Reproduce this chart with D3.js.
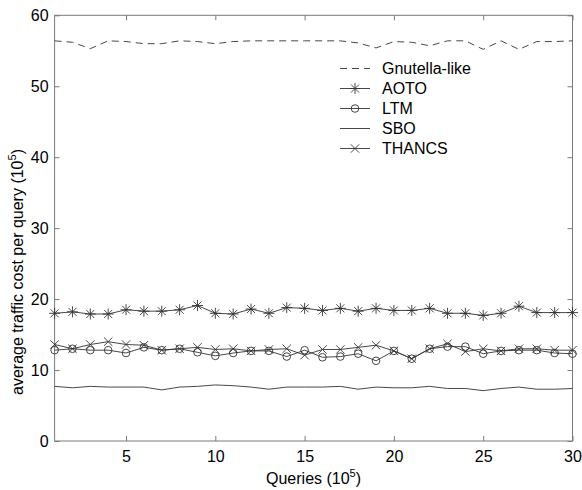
<!DOCTYPE html>
<html>
<head>
<meta charset="utf-8">
<script src="https://cdn.jsdelivr.net/npm/d3@7"></script>
<style>
  html, body { margin: 0; padding: 0; background: #fff; }
  svg { display: block; font-family: "Liberation Sans", Arial, sans-serif; }
</style>
</head>
<body>
<svg id="chart" width="582" height="490"></svg>
<script>
// ---- data ----
const queries = d3.range(1, 31);
const gnutella = [56.4, 56.2, 55.3, 56.4, 56.3, 56.0, 56.0, 56.4, 56.3, 56.0,
                  56.3, 56.4, 56.4, 56.4, 56.4, 56.4, 56.4, 56.1, 55.4, 56.3,
                  56.2, 55.7, 56.4, 56.4, 55.2, 56.4, 55.2, 56.3, 56.3, 56.4];
const aoto = [18.0, 18.2, 17.9, 17.9, 18.5, 18.3, 18.3, 18.5, 19.1, 18.0,
              17.9, 18.6, 18.0, 18.8, 18.7, 18.4, 18.7, 18.3, 18.7, 18.4,
              18.4, 18.7, 18.0, 18.0, 17.7, 18.0, 19.0, 18.1, 18.1, 18.1];
const ltm = [12.8, 13.0, 12.8, 12.8, 12.4, 13.2, 12.8, 13.0, 12.5, 12.0,
             12.4, 12.7, 12.7, 11.9, 12.8, 11.8, 11.9, 12.3, 11.3, 12.7,
             11.6, 13.0, 13.3, 13.3, 12.3, 12.7, 12.8, 12.8, 12.4, 12.3];
const sbo = [7.7, 7.5, 7.7, 7.6, 7.6, 7.6, 7.2, 7.6, 7.7, 7.9,
             7.8, 7.6, 7.3, 7.6, 7.6, 7.6, 7.7, 7.3, 7.6, 7.5,
             7.5, 7.7, 7.4, 7.4, 7.1, 7.4, 7.6, 7.3, 7.3, 7.4];
const thancs = [13.6, 13.0, 13.6, 14.0, 13.6, 13.5, 12.8, 13.0, 13.2, 12.9,
                13.0, 12.7, 12.9, 13.0, 12.1, 12.9, 12.9, 13.2, 13.5, 12.7,
                11.6, 13.0, 13.7, 12.6, 13.0, 12.7, 13.0, 13.0, 12.8, 12.8];
const xTicks = [5, 10, 15, 20, 25, 30];
const yTicks = [0, 10, 20, 30, 40, 50, 60];
const seriesNames = ["Gnutella-like", "AOTO", "LTM", "SBO", "THANCS"];

const series = [
  {name: seriesNames[0], values: gnutella, dash: "7,5", marker: null},
  {name: seriesNames[1], values: aoto, dash: null, marker: "asterisk"},
  {name: seriesNames[2], values: ltm, dash: null, marker: "circle"},
  {name: seriesNames[3], values: sbo, dash: null, marker: null},
  {name: seriesNames[4], values: thancs, dash: null, marker: "cross"}
];

// ---- layout ----
const L = 54.6, R = 572.5, T = 15.3, B = 441;
const svg = d3.select("#chart");
const x = d3.scaleLinear().domain([1, 30]).range([L, R]);
const y = d3.scaleLinear().domain([0, 60]).range([B, T]);
const axisColor = "#7a7a7a";
const lineColor = "#333";

// frame
svg.append("rect").attr("x", L).attr("y", T).attr("width", R - L).attr("height", B - T)
  .attr("fill", "none").attr("stroke", axisColor).attr("stroke-width", 1);

function styleAxis(g, labels) {
  g.select(".domain").remove();
  g.selectAll(".tick line").attr("stroke", axisColor);
  g.selectAll(".tick text").attr("fill", "#000").style("font-size", "16px")
    .style("font-family", "'Liberation Sans', Arial, sans-serif");
  if (!labels) g.selectAll(".tick text").remove();
}

svg.append("g").attr("transform", `translate(0,${B})`)
  .call(d3.axisBottom(x).tickValues(xTicks).tickSize(-5).tickPadding(10).tickFormat(d3.format("d")))
  .call(g => styleAxis(g, true));
svg.append("g").attr("transform", `translate(0,${T})`)
  .call(d3.axisTop(x).tickValues(xTicks).tickSize(-5))
  .call(g => styleAxis(g, false));
svg.append("g").attr("transform", `translate(${L},0)`)
  .call(d3.axisLeft(y).tickValues(yTicks).tickSize(-5).tickPadding(6).tickFormat(d3.format("d")))
  .call(g => styleAxis(g, true));
svg.append("g").attr("transform", `translate(${R},0)`)
  .call(d3.axisRight(y).tickValues(yTicks).tickSize(-5))
  .call(g => styleAxis(g, false));

// markers
function markerPath(type, cx, cy) {
  if (type === "asterisk") {
    const s = 5.5, d = 4;
    return `M${cx - s},${cy}L${cx + s},${cy}M${cx},${cy - s}L${cx},${cy + s}` +
           `M${cx - d},${cy - d}L${cx + d},${cy + d}M${cx - d},${cy + d}L${cx + d},${cy - d}`;
  }
  if (type === "cross") {
    const d = 4.2;
    return `M${cx - d},${cy - d}L${cx + d},${cy + d}M${cx - d},${cy + d}L${cx + d},${cy - d}`;
  }
  return "";
}
function drawMarker(g, type, cx, cy) {
  if (type === "circle") {
    g.append("circle").attr("cx", cx).attr("cy", cy).attr("r", 3.8)
      .attr("fill", "none").attr("stroke", lineColor).attr("stroke-width", 0.9);
  } else if (type) {
    g.append("path").attr("d", markerPath(type, cx, cy))
      .attr("fill", "none").attr("stroke", lineColor).attr("stroke-width", 0.9);
  }
}

const line = d3.line().x((d, i) => x(queries[i])).y(d => y(d));
series.forEach(s => {
  const g = svg.append("g");
  g.append("path").datum(s.values).attr("d", line)
    .attr("fill", "none").attr("stroke", lineColor).attr("stroke-width", 0.9)
    .attr("stroke-dasharray", s.dash);
  if (s.marker) s.values.forEach((v, i) => drawMarker(g, s.marker, x(queries[i]), y(v)));
});

// legend
const lg = svg.append("g");
series.forEach((s, i) => {
  const ly = 68.5 + i * 20;
  lg.append("line").attr("x1", 340).attr("x2", 370).attr("y1", ly).attr("y2", ly)
    .attr("stroke", lineColor).attr("stroke-width", 0.9).attr("stroke-dasharray", s.dash);
  drawMarker(lg, s.marker, 355, ly);
  lg.append("text").attr("x", 382).attr("y", ly).attr("dy", "0.36em")
    .style("font-size", "16px").attr("fill", "#000").text(s.name);
});

// axis labels
const xl = svg.append("text").attr("x", (L + R) / 2).attr("y", 484)
  .attr("text-anchor", "middle").style("font-size", "16px");
xl.append("tspan").text("Queries (10");
xl.append("tspan").attr("dy", -7).style("font-size", "11px").text("5");
xl.append("tspan").attr("dy", 7).text(")");

const yl = svg.append("text").attr("transform", `translate(23,272) rotate(-90)`)
  .attr("text-anchor", "middle").style("font-size", "16px");
yl.append("tspan").text("average traffic cost per query (10");
yl.append("tspan").attr("dy", -7).style("font-size", "11px").text("5");
yl.append("tspan").attr("dy", 7).text(")");
</script>
</body>
</html>
